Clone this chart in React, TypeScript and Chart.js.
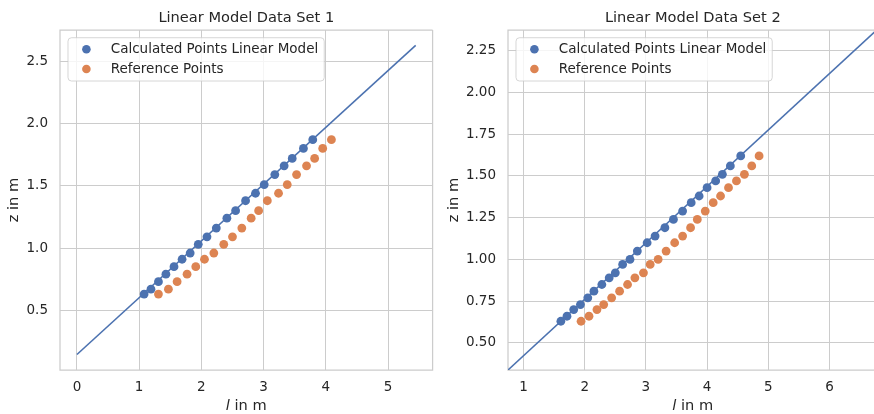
import React, { useEffect, useRef } from 'react';
import { Chart, registerables } from 'chart.js';
Chart.register(...registerables);

// ---------- Data Set 1 ----------
const set1Title = 'Linear Model Data Set 1';
const set1CalcL = [1.08, 1.19, 1.31, 1.43, 1.56, 1.69, 1.82, 1.95, 2.09, 2.24, 2.41, 2.55, 2.71, 2.87, 3.01, 3.18, 3.33, 3.46, 3.64, 3.79];
const set1CalcZ = [0.63, 0.67, 0.73, 0.79, 0.85, 0.91, 0.96, 1.03, 1.09, 1.16, 1.24, 1.30, 1.38, 1.44, 1.51, 1.59, 1.66, 1.72, 1.80, 1.87];
const set1RefL = [1.31, 1.47, 1.61, 1.77, 1.91, 2.05, 2.20, 2.36, 2.50, 2.65, 2.80, 2.92, 3.06, 3.24, 3.38, 3.53, 3.69, 3.82, 3.95, 4.09];
const set1RefZ = [0.63, 0.67, 0.73, 0.79, 0.85, 0.91, 0.96, 1.03, 1.09, 1.16, 1.24, 1.30, 1.38, 1.44, 1.51, 1.59, 1.66, 1.72, 1.80, 1.87];
const set1LineL = [0, 5.444];
const set1LineZ = [0.145, 2.627];
const set1XTicks = ['0', '1', '2', '3', '4', '5'];
const set1YTicks = ['0.5', '1.0', '1.5', '2.0', '2.5'];
const set1XRange = [-0.272, 5.716];
const set1YRange = [0.0205, 2.751];

// ---------- Data Set 2 ----------
const set2Title = 'Linear Model Data Set 2';
const set2CalcL = [1.61, 1.71, 1.82, 1.93, 2.05, 2.15, 2.28, 2.40, 2.50, 2.62, 2.74, 2.86, 3.02, 3.15, 3.31, 3.45, 3.60, 3.74, 3.87, 4.00, 4.14, 4.25, 4.38, 4.55];
const set2CalcZ = [0.63, 0.66, 0.70, 0.73, 0.77, 0.81, 0.85, 0.89, 0.92, 0.97, 1.00, 1.05, 1.10, 1.14, 1.19, 1.24, 1.29, 1.34, 1.38, 1.43, 1.47, 1.51, 1.56, 1.62];
const set2RefL = [1.94, 2.07, 2.20, 2.31, 2.44, 2.57, 2.70, 2.82, 2.96, 3.07, 3.20, 3.33, 3.47, 3.60, 3.73, 3.84, 3.97, 4.10, 4.22, 4.35, 4.48, 4.61, 4.73, 4.85];
const set2RefZ = [0.63, 0.66, 0.70, 0.73, 0.77, 0.81, 0.85, 0.89, 0.92, 0.97, 1.00, 1.05, 1.10, 1.14, 1.19, 1.24, 1.29, 1.34, 1.38, 1.43, 1.47, 1.51, 1.56, 1.62];
const set2LineL = [0.5, 7.0];
const set2LineZ = [0.255, 2.451];
const set2XTicks = ['1', '2', '3', '4', '5', '6'];
const set2YTicks = ['0.50', '0.75', '1.00', '1.25', '1.50', '1.75', '2.00', '2.25'];
const set2XRange = [0.746, 6.787];
const set2YRange = [0.338, 2.374];

const seriesLabels = ['Calculated Points Linear Model', 'Reference Points'];
const seriesColors = ['#4c72b0', '#dd8452'];
const xLabelVar = 'l';
const xLabelRest = ' in m';
const yLabel = 'z in m';

const FONT = '"DejaVu Sans", sans-serif';
const TEXT = '#262626';
const GRID = '#cccccc';

type Cfg = {
  title: string;
  calcL: number[]; calcZ: number[];
  refL: number[]; refZ: number[];
  lineL: number[]; lineZ: number[];
  xTicks: string[]; yTicks: string[];
  xRange: number[]; yRange: number[];
  yAxisWidth: number; yTitlePad: number; padRight: number; drawRight: boolean;
};

const zip = (a: number[], b: number[]) => a.map((v, i) => ({ x: v, y: b[i] }));

function makeChart(canvas: HTMLCanvasElement, c: Cfg) {
  const decor = {
    id: 'decor',
    beforeDatasetsDraw(chart: any) {
      const { ctx, chartArea: a } = chart;
      ctx.save();
      ctx.strokeStyle = GRID;
      ctx.lineWidth = 1.25;
      ctx.beginPath();
      ctx.moveTo(a.right, a.top);
      ctx.lineTo(a.left, a.top);
      ctx.lineTo(a.left, a.bottom);
      ctx.lineTo(a.right, a.bottom);
      if (c.drawRight) ctx.lineTo(a.right, a.top);
      ctx.stroke();
      ctx.restore();
    },
    afterDraw(chart: any) {
      const { ctx, chartArea: a } = chart;
      ctx.save();
      // legend
      ctx.font = `13.5px ${FONT}`;
      const tw = Math.max(...seriesLabels.map((s) => ctx.measureText(s).width));
      const bx = a.left + 8, by = a.top + 7.7, bw = 42.7 + tw + 6, bh = 43.3, r = 3.5;
      ctx.beginPath();
      ctx.moveTo(bx + r, by);
      ctx.lineTo(bx + bw - r, by);
      ctx.arcTo(bx + bw, by, bx + bw, by + r, r);
      ctx.lineTo(bx + bw, by + bh - r);
      ctx.arcTo(bx + bw, by + bh, bx + bw - r, by + bh, r);
      ctx.lineTo(bx + r, by + bh);
      ctx.arcTo(bx, by + bh, bx, by + bh - r, r);
      ctx.lineTo(bx, by + r);
      ctx.arcTo(bx, by, bx + r, by, r);
      ctx.closePath();
      ctx.fillStyle = 'rgba(255,255,255,0.8)';
      ctx.fill();
      ctx.strokeStyle = 'rgba(204,204,204,0.8)';
      ctx.lineWidth = 1;
      ctx.stroke();
      ctx.textBaseline = 'middle';
      ctx.textAlign = 'left';
      seriesLabels.forEach((s, i) => {
        const y = a.top + 19.3 + i * 19.7;
        ctx.beginPath();
        ctx.arc(bx + 18.4, y, 4.3, 0, Math.PI * 2);
        ctx.fillStyle = seriesColors[i];
        ctx.fill();
        ctx.fillStyle = TEXT;
        ctx.fillText(s, bx + 42.7, y);
      });
      // x-axis label with italic variable
      const cx = (a.left + a.right) / 2;
      const ly = 406.5;
      ctx.font = `italic 14.6px ${FONT}`;
      const w1 = ctx.measureText(xLabelVar).width;
      ctx.font = `14.6px ${FONT}`;
      const w2 = ctx.measureText(xLabelRest).width;
      const sx = cx - (w1 + w2) / 2;
      ctx.fillStyle = TEXT;
      ctx.font = `italic 14.6px ${FONT}`;
      ctx.fillText(xLabelVar, sx, ly);
      ctx.font = `14.6px ${FONT}`;
      ctx.fillText(xLabelRest, sx + w1, ly);
      ctx.restore();
    },
  };

  const xVals = c.xTicks.map(parseFloat);
  const yVals = c.yTicks.map(parseFloat);

  return new Chart(canvas, {
    type: 'scatter',
    data: {
      datasets: [
        {
          label: seriesLabels[0],
          data: zip(c.calcL, c.calcZ),
          backgroundColor: seriesColors[0],
          borderWidth: 0,
          pointRadius: 4.4,
        },
        {
          label: seriesLabels[1],
          data: zip(c.refL, c.refZ),
          backgroundColor: seriesColors[1],
          borderWidth: 0,
          pointRadius: 4.4,
        },
        {
          label: 'line',
          data: zip(c.lineL, c.lineZ),
          showLine: true,
          borderColor: seriesColors[0],
          borderWidth: 1.6,
          pointRadius: 0,
          clip: 0,
        } as any,
      ],
    },
    options: {
      animation: false,
      responsive: false,
      events: [],
      layout: { padding: { left: 0, right: c.padRight, top: 0, bottom: 0 } },
      plugins: {
        legend: { display: false },
        tooltip: { enabled: false },
        title: {
          display: true,
          text: c.title,
          fullSize: false,
          color: TEXT,
          font: { family: FONT, size: 14.6, weight: 'normal' as any },
          padding: { top: 9, bottom: 3.5 },
        },
      },
      scales: {
        x: {
          type: 'linear',
          min: c.xRange[0],
          max: c.xRange[1],
          afterBuildTicks: (s: any) => { s.ticks = xVals.map((v) => ({ value: v })); },
          afterFit: (s: any) => { s.height = 44; },
          ticks: {
            callback: (_v: any, i: number) => c.xTicks[i],
            color: TEXT,
            font: { family: FONT, size: 13.5 },
            padding: 9.6,
            maxRotation: 0,
          },
          grid: { color: GRID, lineWidth: 1, drawTicks: false },
          border: { display: false },
          title: { display: false },
        },
        y: {
          type: 'linear',
          min: c.yRange[0],
          max: c.yRange[1],
          afterBuildTicks: (s: any) => { s.ticks = yVals.map((v) => ({ value: v })); },
          afterFit: (s: any) => { s.width = c.yAxisWidth; },
          ticks: {
            callback: (_v: any, i: number) => c.yTicks[i],
            color: TEXT,
            font: { family: FONT, size: 13.5 },
            padding: 12,
          },
          grid: { color: GRID, lineWidth: 1, drawTicks: false },
          border: { display: false },
          title: {
            display: true,
            text: yLabel,
            color: TEXT,
            font: { family: FONT, size: 14.6 },
            padding: { top: c.yTitlePad, bottom: 0 },
          },
        },
      },
    },
    plugins: [decor],
  } as any);
}

function Panel({ cfg, width, left }: { cfg: Cfg; width: number; left: number }) {
  const ref = useRef<HTMLCanvasElement | null>(null);
  useEffect(() => {
    if (!ref.current) return;
    const ch = makeChart(ref.current, cfg);
    return () => ch.destroy();
  }, []);
  return (
    <canvas
      ref={ref}
      width={width}
      height={414}
      style={{ position: 'absolute', left, top: 0, width, height: 414, display: 'block' }}
    />
  );
}

const cfg1: Cfg = {
  title: set1Title, calcL: set1CalcL, calcZ: set1CalcZ, refL: set1RefL, refZ: set1RefZ,
  lineL: set1LineL, lineZ: set1LineZ, xTicks: set1XTicks, yTicks: set1YTicks,
  xRange: set1XRange, yRange: set1YRange, yAxisWidth: 60, yTitlePad: 5.2, padRight: 3, drawRight: true,
};
const cfg2: Cfg = {
  title: set2Title, calcL: set2CalcL, calcZ: set2CalcZ, refL: set2RefL, refZ: set2RefZ,
  lineL: set2LineL, lineZ: set2LineZ, xTicks: set2XTicks, yTicks: set2YTicks,
  xRange: set2XRange, yRange: set2YRange, yAxisWidth: 71, yTitlePad: 8.2, padRight: 0, drawRight: true,
};

export default function App() {
  return (
    <div style={{ position: 'absolute', left: 0, top: 0, width: 874, height: 414, overflow: 'hidden', background: '#fff' }}>
      <Panel cfg={cfg1} width={437} left={0} />
      <Panel cfg={cfg2} width={445} left={437} />
    </div>
  );
}
